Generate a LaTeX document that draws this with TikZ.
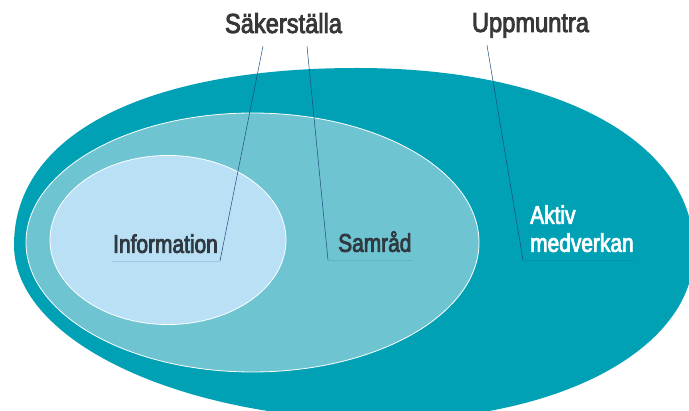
\documentclass[tikz,border=0pt]{standalone}
\usepackage{fontspec}
\newfontfamily\titlefont[FakeStretch=0.86,FakeBold=3]{Liberation Sans}
\newfontfamily\regionfont[FakeStretch=0.82,FakeBold=3]{Liberation Sans}
\usepackage{xcolor}
\usetikzlibrary{positioning}
\definecolor{outerteal}{RGB}{0,160,181}
\definecolor{midteal}{RGB}{111,196,210}
\definecolor{innerblue}{RGB}{186,224,246}
\definecolor{leaderblue}{RGB}{30,75,120}
\definecolor{titlegray}{RGB}{55,55,55}
\definecolor{regiongray}{RGB}{48,56,64}

\begin{document}
\begin{tikzpicture}[x=1pt,y=-1pt,
		title/.style={ text=titlegray,
			font=\titlefont\fontsize{27.5}{30}\selectfont,
			anchor=base,
			inner xsep=0pt, inner ysep=13pt, text depth=0pt,
		},
		region/.style={ text=regiongray,
			font=\regionfont\fontsize{25.5}{28}\selectfont,
			align=left, anchor=south west,
			inner xsep=0pt, inner ysep=8pt, text depth=0pt,
		},
		leader/.style={draw=leaderblue, line width=0.5pt},
		underline/.style={draw=leaderblue, opacity=0.15, line width=0.8pt},
		]
		\useasboundingbox (0,0) rectangle (689,411);
		\clip (0,0) rectangle (689,411);

		% the three areas
		\fill[outerteal] (14,245) .. controls (14,135) and (144,68) .. (357,68)
			.. controls (559,68) and (694,142) .. (694,252)
			.. controls (694,348) and (561,420) .. (385,420)
			.. controls (181,420) and (14,341) .. (14,245) -- cycle;
		\filldraw[fill=midteal, draw=white, line width=0.8pt] (252.5,242.5) ellipse [x radius=226.5pt, y radius=129.5pt];
		\filldraw[fill=innerblue, draw=white, line width=0.8pt] (168,240) ellipse [x radius=118pt, y radius=84.5pt];

		\node (sakerstalla) [title] at (283.5,33) {Säkerställa};
		\node (uppmuntra) [title] at (530.5,32) {Uppmuntra};
		\node (information) [region] at (113,261) {Information};
		\node (samrad) [region] at (338,260) {Samråd};
		\node (aktiv) [region, text=white] at (530,260) {Aktiv\\medverkan};

		\draw[leader] ([xshift=-20.5pt]sakerstalla.south) -- ([xshift=2pt]information.south east);
		\draw[underline] ([xshift=2pt]information.south east) -- ([xshift=-1pt]information.south west);
		\draw[leader] ([xshift=23.5pt]sakerstalla.south) -- ([xshift=-10pt]samrad.south west);
		\draw[underline] ([xshift=-10pt]samrad.south west) -- (samrad.south east);
		\draw[leader] ([xshift=-43.5pt]uppmuntra.south) -- ([xshift=-7pt]aktiv.south west);
		\draw[underline] ([xshift=-7pt]aktiv.south west) -- (aktiv.south east);

	\end{tikzpicture}
\end{document}
